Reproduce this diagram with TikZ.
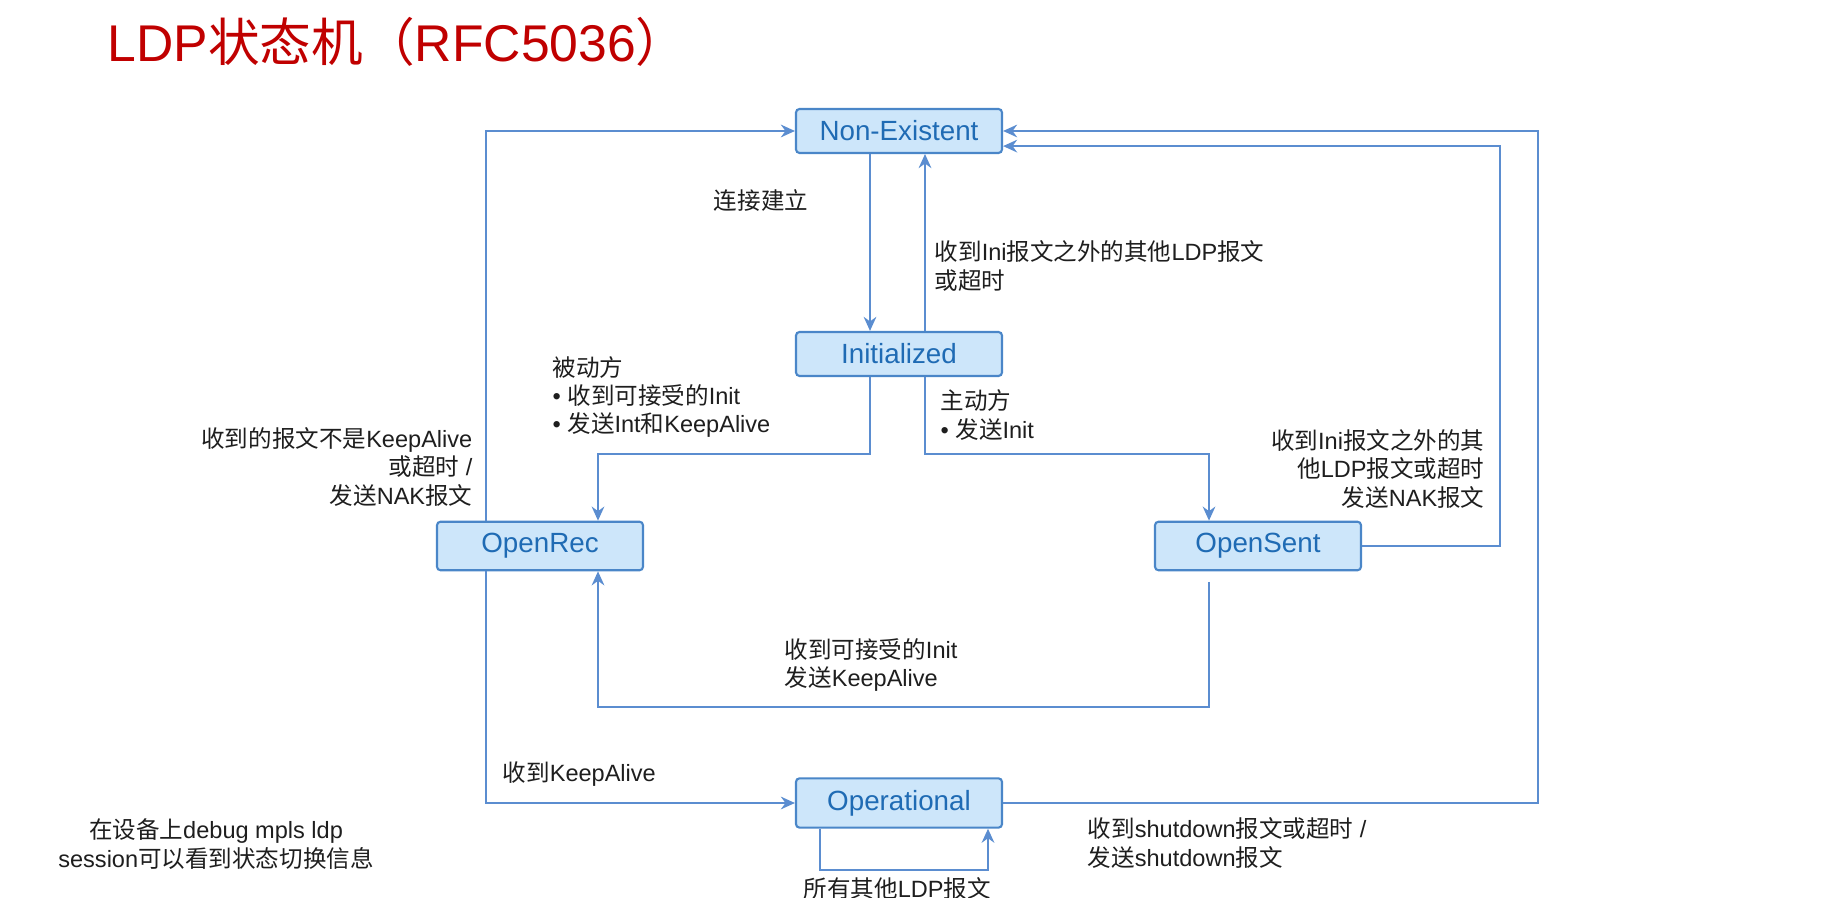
\documentclass[tikz,border=0pt]{standalone}
\usepackage{fontspec}
\usepackage{tikz}
\usetikzlibrary{arrows.meta,positioning}
\setmainfont{Liberation Sans}
\newfontfamily\cjkfont{Noto Sans CJK SC}
% CJK characters switch to the CJK font on their own
\XeTeXinterchartokenstate=1
\newXeTeXintercharclass\cjkclass
\count255="3000
\loop\XeTeXcharclass\count255=\cjkclass \advance\count255 by 1 \ifnum\count255<"3040 \repeat
\count255="4E00
\loop\XeTeXcharclass\count255=\cjkclass \advance\count255 by 1 \ifnum\count255<"A000 \repeat
\count255="FF00
\loop\XeTeXcharclass\count255=\cjkclass \advance\count255 by 1 \ifnum\count255<"FFF0 \repeat
\XeTeXinterchartoks 0 \cjkclass = {\begingroup\cjkfont}
\XeTeXinterchartoks 4095 \cjkclass = {\begingroup\cjkfont}
\XeTeXinterchartoks \cjkclass 0 = {\endgroup}
\XeTeXinterchartoks \cjkclass 4095 = {\endgroup}
\definecolor{boxfill}{HTML}{CDE6FA}
\definecolor{boxline}{HTML}{4A86C8}
\definecolor{boxtext}{HTML}{1F6BB4}
\definecolor{flowline}{HTML}{5B8DD0}
\definecolor{lbltext}{HTML}{1E1E1E}
\definecolor{titlered}{HTML}{C00000}

\begin{document}
\begin{tikzpicture}[x=0.1mm, y=-0.1mm, >={Stealth[length=4pt, width=3.6pt]},
  stbox/.style={draw=boxline, fill=boxfill, rounded corners=1pt, line width=0.6pt,
    minimum width=20.6mm, minimum height=4.4mm, text=boxtext, font=\fontsize{7.9}{9}\selectfont},
  flow/.style={->, draw=flowline, line width=0.6pt},
  lbl/.style={font=\fontsize{6.7}{8.1}\selectfont, text=lbltext, inner sep=0pt}]
\path[use as bounding box] (0,0) rectangle (1831,898);
\node[anchor=west, inner sep=0pt, text=titlered, font=\fontsize{14.7}{17}\selectfont] (title) at (107,42) {LDP状态机（RFC5036）};
% states
\node[stbox] (NE) at (899,131) {Non-Existent};
\node[stbox] (INIT) at (899,354) {Initialized};
\node[stbox] (OREC) at (540,546) {OpenRec};
\node[stbox] (OSENT) at (1258,546) {OpenSent};
\node[stbox] (OPER) at (899,803) {Operational};
% rails
\coordinate (xL) at (486,0);
\coordinate (xR) at (598,0);
\coordinate (xA) at (870,0);
\coordinate (xB) at (925,0);
\coordinate (xS) at (1209,0);
\coordinate (xI) at (1500,0);
\coordinate (xO) at (1538,0);
\coordinate (xP) at (820,0);
\coordinate (xQ) at (988,0);
\coordinate (NEin) at ([yshift=-4.3pt]NE.east);
% transitions
\draw[flow] (NE.south -| xA) -- (INIT.north -| xA);
\draw[flow] (INIT.north -| xB) -- (NE.south -| xB);
\draw[flow] (INIT.south -| xA) -- ++(0,77) -| (OREC.north -| xR);
\draw[flow] (INIT.south -| xB) -- ++(0,77) -| (OSENT.north -| xS);
\draw[flow, shorten <=3pt] (OSENT.south -| xS) -- ++(0,136) -| (OREC.south -| xR);
\draw[flow] (OREC.north -| xL) |- (NE.west);
\draw[flow] (OREC.south -| xL) |- (OPER.west);
\draw[flow] (OSENT.east) -| (NEin -| xI) -- (NEin);
\draw[flow] (OPER.east) -| (xO |- NE.east) -- (NE.east);
\draw[flow] (OPER.south -| xP) -- ++(0,41) -| (OPER.south -| xQ);
% labels
\node[lbl] (lConn) at (761,201) {连接建立};
\node[lbl, anchor=west, align=left] (lBack) at (934,266) {收到Ini报文之外的其他LDP报文\\或超时};
\node[lbl, anchor=west, align=left] (lPas) at (552,397) {被动方\\• 收到可接受的Init\\• 发送Int和KeepAlive};
\node[lbl, anchor=west, align=left] (lAct) at (940,415) {主动方\\• 发送Init};
\node[lbl, anchor=east, align=right] (lRecNak) at (473,467) {收到的报文不是KeepAlive\\或超时 /\\发送NAK报文};
\node[lbl, anchor=east, align=right] (lSentNak) at (1485,469) {收到Ini报文之外的其\\他LDP报文或超时\\发送NAK报文};
\node[lbl, anchor=west, align=left] (lInit) at (784,665) {收到可接受的Init\\发送KeepAlive};
\node[lbl, anchor=west] (lKa) at (502,774) {收到KeepAlive};
\node[lbl, align=center] (lDebug) at (216,844) {在设备上debug mpls ldp\\session可以看到状态切换信息};
\node[lbl, anchor=west, align=left] (lShut) at (1087,843) {收到shutdown报文或超时 /\\发送shutdown报文};
\node[lbl, anchor=west] (lOther) at (803,888) {所有其他LDP报文};
\end{tikzpicture}
\end{document}
